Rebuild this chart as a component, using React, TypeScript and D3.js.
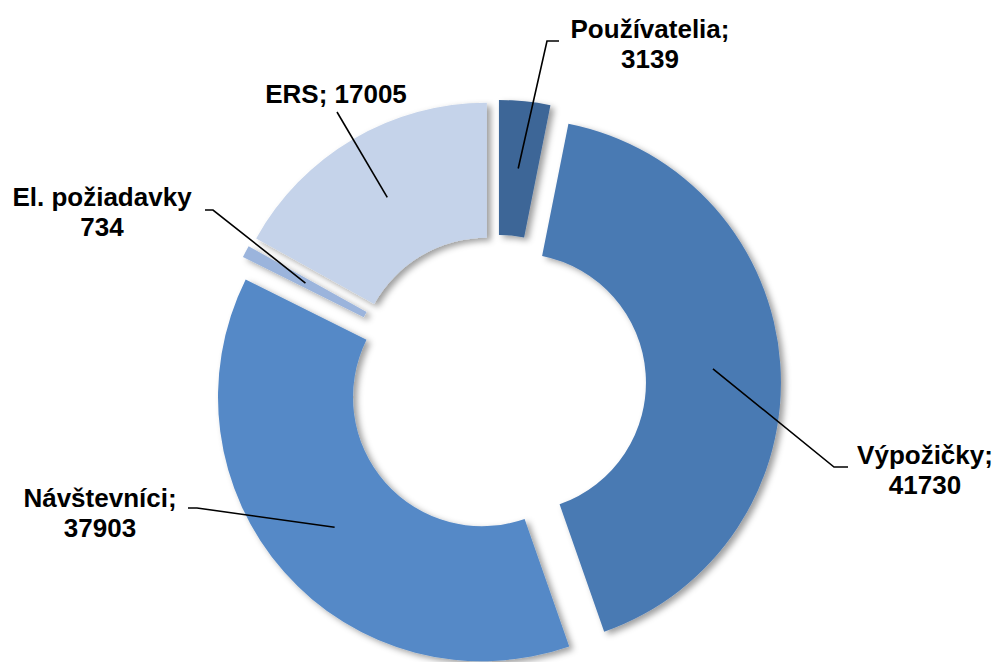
import React from 'react';
import * as d3 from 'd3';

// data
const categories = ['Používatelia', 'Výpožičky', 'Návštevníci', 'El. požiadavky', 'ERS'];
const values = [3139, 41730, 37903, 734, 17005];
// how each data label is written: two lines with ";", two lines without, or one line
const labelFormat = ['semi', 'semi', 'semi', 'plain', 'inline'];

// styles
const colors = ['#3d6697', '#4a7ab3', '#5589c7', '#9bb4dc', '#c5d3ea'];

// layout
const W = 997;
const H = 662;
const cx = 497;
const cy = 384;
const outerR = 264;
const innerR = 129;
const explode = 20;
const fontSize = 26;
const lineGap = 30;

// label placement: text centre x, first baseline y, elbow of the leader, end of its short horizontal run
const labelPos = [
  {x: 650, y: 38, elbow: [547, 41], end: [559, 41]},
  {x: 925, y: 464, elbow: [834, 467], end: [848, 467]},
  {x: 100, y: 507, elbow: [197, 508], end: [188, 508]},
  {x: 102, y: 206, elbow: [213, 210], end: [205, 210]},
  {x: 336, y: 103, elbow: [337, 112], end: null},
];

const App = () => {
  const pie = d3
    .pie<number>()
    .sort(null)
    .value(d => d)
    .startAngle(0)
    .endAngle(2 * Math.PI);

  const arcs = pie(values);

  const arc = d3.arc<d3.PieArcDatum<number>>().innerRadius(innerR).outerRadius(outerR);

  const shift = (d: d3.PieArcDatum<number>) => {
    const mid = (d.startAngle + d.endAngle) / 2;
    return [explode * Math.sin(mid), -explode * Math.cos(mid)];
  };

  return (
    <svg
      width={W}
      height={H}
      style={{position: 'absolute', left: 0, top: 0}}
      fontFamily="'Liberation Sans', Arial, sans-serif"
    >
      <defs>
        <filter id="shadow" x="-20%" y="-20%" width="150%" height="150%">
          <feDropShadow dx="4" dy="3" stdDeviation="3" floodColor="#000" floodOpacity="0.38" />
        </filter>
      </defs>
      <rect width={W} height={H} fill="#fff" />
      <g transform={`translate(${cx},${cy})`}>
        {arcs.map((d, i) => {
          const [dx, dy] = shift(d);
          return (
            <path
              key={categories[i]}
              d={arc(d) || ''}
              transform={`translate(${dx},${dy})`}
              fill={colors[i]}
              filter="url(#shadow)"
            />
          );
        })}
      </g>
      {arcs.map((d, i) => {
        const [dx, dy] = shift(d);
        const [px, py] = arc.centroid(d);
        const sx = cx + dx + px;
        const sy = cy + dy + py;
        const p = labelPos[i];
        let pts = `${sx},${sy} ${p.elbow[0]},${p.elbow[1]}`;
        if (p.end) pts += ` ${p.end[0]},${p.end[1]}`;
        const fmt = labelFormat[i];
        const lines =
          fmt === 'inline'
            ? [`${categories[i]}; ${values[i]}`]
            : [`${categories[i]}${fmt === 'semi' ? ';' : ''}`, `${values[i]}`];
        return (
          <g key={'lbl' + i}>
            <polyline points={pts} fill="none" stroke="#000" strokeWidth={1.6} />
            {lines.map((t, j) => (
              <text
                key={j}
                x={p.x}
                y={p.y + j * lineGap}
                textAnchor="middle"
                fontSize={fontSize}
                fontWeight="bold"
                fill="#000"
              >
                {t}
              </text>
            ))}
          </g>
        );
      })}
    </svg>
  );
};

export default App;
